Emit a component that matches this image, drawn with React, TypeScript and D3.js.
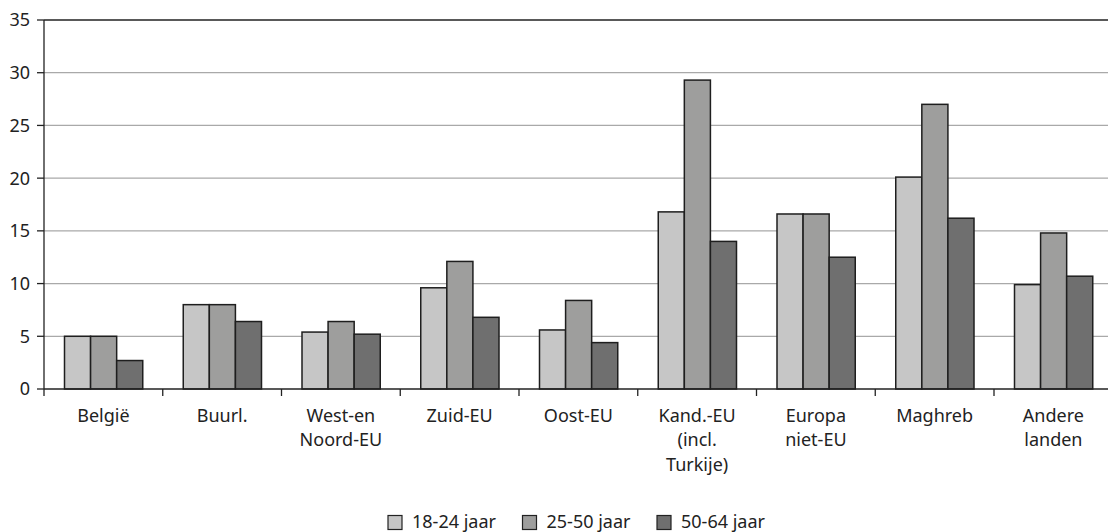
import React from "react";
import * as d3 from "d3";

const categories: string[][] = [
  ["België"],
  ["Buurl."],
  ["West-en", "Noord-EU"],
  ["Zuid-EU"],
  ["Oost-EU"],
  ["Kand.-EU", "(incl.", "Turkije)"],
  ["Europa", "niet-EU"],
  ["Maghreb"],
  ["Andere", "landen"],
];
const seriesNames = ["18-24 jaar", "25-50 jaar", "50-64 jaar"];
const s18 = [5.0, 8.0, 5.4, 9.6, 5.6, 16.8, 16.6, 20.1, 9.9];
const s25 = [5.0, 8.0, 6.4, 12.1, 8.4, 29.3, 16.6, 27.0, 14.8];
const s50 = [2.7, 6.4, 5.2, 6.8, 4.4, 14.0, 12.5, 16.2, 10.7];
const yTicks = [0, 5, 10, 15, 20, 25, 30, 35];
const colors = ["#c6c6c6", "#9e9e9d", "#6f6f6f"];

const W = 1108;
const H = 532;
const FONT = "'Noto Sans', 'DejaVu Sans', sans-serif";
const FS = 18;

export default function App() {
  const series = [s18, s25, s50];
  const left = 44;
  const top = 20;
  const bottom = 389;
  const band = 118.75;
  const keys = categories.map((c) => c.join(" "));
  const x0 = d3
    .scaleBand<string>()
    .domain(keys)
    .range([left, left + band * keys.length])
    .padding(0);
  const bw = x0.bandwidth();
  const x1 = d3
    .scaleBand<number>()
    .domain([0, 1, 2])
    .range([20.5, bw - 20])
    .padding(0);
  const y = d3.scaleLinear().domain([0, 35]).range([bottom, top]);

  return (
    <div style={{ position: "absolute", left: 0, top: 0 }}>
      <svg width={W} height={H} style={{ display: "block", fontFamily: FONT }}>
        <rect x={0} y={0} width={W} height={H} fill="#fff" />
        {yTicks.map((t) =>
          t > 0 && t < 35 ? (
            <line
              key={"g" + t}
              x1={left}
              x2={W}
              y1={y(t)}
              y2={y(t)}
              stroke="#a9a9a9"
              strokeWidth={1.2}
            />
          ) : null
        )}
        <line x1={left} x2={W} y1={y(35)} y2={y(35)} stroke="#222" strokeWidth={1.3} />
        {keys.map((k, i) => (
          <g key={k} transform={`translate(${x0(k)},0)`}>
            {series.map((s, j) => (
              <rect
                key={j}
                x={x1(j)}
                y={y(s[i])}
                width={x1.bandwidth()}
                height={y(0) - y(s[i])}
                fill={colors[j]}
                stroke="#1e1e1e"
                strokeWidth={1.5}
              />
            ))}
          </g>
        ))}
        <line x1={left} x2={left} y1={top} y2={bottom + 7} stroke="#222" strokeWidth={1.3} />
        {yTicks.map((t) => (
          <g key={"t" + t}>
            <line x1={left - 7} x2={left} y1={y(t)} y2={y(t)} stroke="#222" strokeWidth={1.3} />
            <text x={30} y={y(t)} dy="0.36em" textAnchor="end" fontSize={FS} fill="#222">
              {t}
            </text>
          </g>
        ))}
        <line x1={left} x2={W} y1={bottom} y2={bottom} stroke="#222" strokeWidth={1.3} />
        {keys.map((k, i) => (
          <line
            key={"xt" + i}
            x1={(x0(k) as number) + bw}
            x2={(x0(k) as number) + bw}
            y1={bottom}
            y2={bottom + 7}
            stroke="#222"
            strokeWidth={1.3}
          />
        ))}
        {categories.map((lines, i) => (
          <text
            key={"xl" + i}
            x={(x0(keys[i]) as number) + bw / 2}
            y={421.5}
            textAnchor="middle"
            fontSize={FS}
            fill="#222"
          >
            {lines.map((ln, li) => (
              <tspan key={li} x={(x0(keys[i]) as number) + bw / 2} dy={li === 0 ? 0 : 24.5}>
                {ln}
              </tspan>
            ))}
          </text>
        ))}
        {seriesNames.map((n, j) => (
          <g key={n} transform={`translate(${388 + j * 134.5},515.5)`}>
            <rect x={0} y={0} width={14} height={14} fill={colors[j]} stroke="#222" strokeWidth={1.2} />
            <text x={24} y={12.5} fontSize={FS} fill="#222">
              {n}
            </text>
          </g>
        ))}
      </svg>
    </div>
  );
}
